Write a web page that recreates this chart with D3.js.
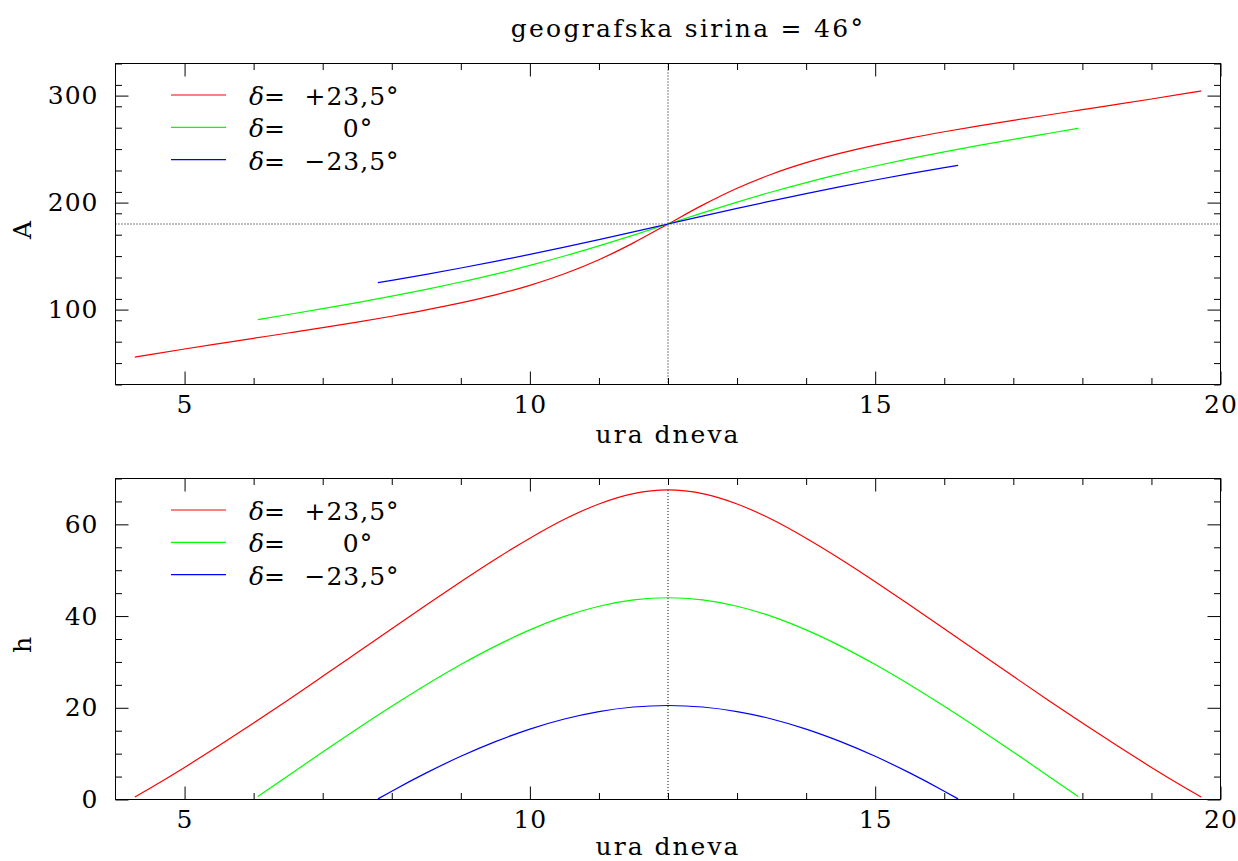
<!DOCTYPE html>
<html>
<head>
<meta charset="utf-8">
<script src="https://cdn.jsdelivr.net/npm/d3@7"></script>
<style>
body { margin: 0; background: #fff; }
text { font-family: "DejaVu Serif", serif; fill: #000; }
</style>
</head>
<body>
<div id="chart"></div>
<script>
var width = 1238, height = 861;

// declinations and colours
var deltaLabels = ["+23,5°", "0°", "\u221223,5°"];
var colors = ["#ff0000", "#00ff00", "#0000ff"];

// delta = +23.5
var hoursRed = [4.28, 4.5, 5, 5.5, 6, 6.5, 7, 7.5, 8, 8.5, 9, 9.5, 10, 10.5, 11, 11.5, 12,
  12.5, 13, 13.5, 14, 14.5, 15, 15.5, 16, 16.5, 17, 17.5, 18, 18.5, 19, 19.5, 19.72];
var azRed = [55.66, 58.0, 63.19, 68.23, 73.19, 78.14, 83.16, 88.34, 93.81, 99.72, 106.29, 113.81, 122.70, 133.45, 146.62, 162.39, 180,
  197.61, 213.38, 226.55, 237.30, 246.19, 253.71, 260.28, 266.19, 271.66, 276.84, 281.86, 286.81, 291.77, 296.81, 302.0, 304.34];
var altRed = [0.55, 2.47, 7.0, 11.75, 16.67, 21.71, 26.86, 32.05, 37.25, 42.43, 47.5, 52.4, 56.98, 61.1, 64.45, 66.7, 67.5,
  66.7, 64.45, 61.1, 56.98, 52.4, 47.5, 42.43, 37.25, 32.05, 26.86, 21.71, 16.67, 11.75, 7.0, 2.47, 0.55];

// delta = 0
var hoursGreen = [6.06, 6.5, 7, 7.5, 8, 8.5, 9, 9.5, 10, 10.5, 11, 11.5, 12,
  12.5, 13, 13.5, 14, 14.5, 15, 15.5, 16, 16.5, 17, 17.5, 17.94];
var azGreen = [90.65, 95.41, 100.91, 106.59, 112.55, 118.90, 125.76, 133.15, 141.26, 150.07, 159.57, 169.63, 180,
  190.37, 200.43, 209.93, 218.74, 226.85, 234.24, 241.10, 247.45, 253.41, 259.09, 264.59, 269.35];
var altGreen = [0.63, 5.20, 10.36, 15.42, 20.32, 25.02, 29.42, 33.44, 36.98, 39.93, 42.14, 43.53, 44.0,
  43.53, 42.14, 39.93, 36.98, 33.44, 29.42, 25.02, 20.32, 15.42, 10.36, 5.20, 0.63];

// delta = -23.5
var hoursBlue = [7.8, 8, 8.5, 9, 9.5, 10, 10.5, 11, 11.5, 12,
  12.5, 13, 13.5, 14, 14.5, 15, 15.5, 16, 16.2];
var azBlue = [125.20, 127.39, 133.00, 138.91, 145.10, 151.61, 158.40, 165.45, 172.67, 180,
  187.33, 194.55, 201.60, 208.39, 214.90, 221.09, 227.00, 232.61, 234.80];
var altBlue = [0.14, 1.82, 5.80, 9.42, 12.62, 15.36, 17.56, 19.18, 20.17, 20.5,
  20.17, 19.18, 17.56, 15.36, 12.62, 9.42, 5.80, 1.82, 0.14];

// ticks
var xMajor = [5, 10, 15, 20];
var aMajor = [100, 200, 300];
var hMajor = [0, 20, 40, 60];

var svg = d3.select("#chart").append("svg")
  .attr("width", width)
  .attr("height", height)
  .style("background-color", "#fff");

var x = d3.scaleLinear().domain([4, 20]).range([115.5, 1220.5]);

function zip(hours, vals) {
  return hours.map(function (h, i) { return {t: h, v: vals[i]}; });
}

function panel(opts) {
  var y = d3.scaleLinear().domain(opts.domain).range([opts.bottom, opts.top]);
  var g = svg.append("g");

  var x0 = x.range()[0], x1 = x.range()[1];

  function styleAxis(sel) {
    sel.select(".domain").remove();
    sel.selectAll("line").attr("stroke", "#000").attr("stroke-width", 1);
    sel.selectAll("text")
      .style("font-family", "'DejaVu Serif', serif")
      .style("font-size", "25px")
      .style("letter-spacing", "1px");
  }

  var minorX = d3.range(5, 20, 1).filter(function (d) { return xMajor.indexOf(d) < 0; });
  var minorY = d3.range(opts.domain[0], opts.domain[1] + 0.001, opts.minorStep)
    .filter(function (d) { return opts.major.indexOf(d) < 0; });

  // bottom
  g.append("g").attr("transform", "translate(0," + opts.bottom + ")")
    .call(d3.axisBottom(x).tickValues(xMajor).tickSizeInner(-13).tickSizeOuter(0).tickPadding(11).tickFormat(d3.format("d")))
    .call(styleAxis);
  g.append("g").attr("transform", "translate(0," + opts.bottom + ")")
    .call(d3.axisBottom(x).tickValues(minorX).tickSize(-6.5).tickFormat(""))
    .call(styleAxis);
  // top
  g.append("g").attr("transform", "translate(0," + opts.top + ")")
    .call(d3.axisTop(x).tickValues(xMajor).tickSize(-13).tickFormat(""))
    .call(styleAxis);
  g.append("g").attr("transform", "translate(0," + opts.top + ")")
    .call(d3.axisTop(x).tickValues(minorX).tickSize(-6.5).tickFormat(""))
    .call(styleAxis);
  // left
  g.append("g").attr("transform", "translate(" + x0 + ",0)")
    .call(d3.axisLeft(y).tickValues(opts.major).tickSizeInner(-13).tickSizeOuter(0).tickPadding(17).tickFormat(d3.format("d")))
    .call(styleAxis);
  g.append("g").attr("transform", "translate(" + x0 + ",0)")
    .call(d3.axisLeft(y).tickValues(minorY).tickSize(-6.5).tickFormat(""))
    .call(styleAxis);
  // right
  g.append("g").attr("transform", "translate(" + x1 + ",0)")
    .call(d3.axisRight(y).tickValues(opts.major).tickSize(-13).tickFormat(""))
    .call(styleAxis);
  g.append("g").attr("transform", "translate(" + x1 + ",0)")
    .call(d3.axisRight(y).tickValues(minorY).tickSize(-6.5).tickFormat(""))
    .call(styleAxis);

  // frame
  g.append("rect")
    .attr("x", x0).attr("y", opts.top)
    .attr("width", x1 - x0).attr("height", opts.bottom - opts.top)
    .attr("fill", "none").attr("stroke", "#000").attr("stroke-width", 1);

  // dotted guides
  g.append("line")
    .attr("x1", x(12)).attr("x2", x(12))
    .attr("y1", opts.noonTop == null ? opts.top : y(opts.noonTop)).attr("y2", opts.bottom)
    .attr("stroke", "#000").attr("stroke-width", 1).attr("stroke-dasharray", "1,2");
  if (opts.hline != null) {
    g.append("line")
      .attr("x1", x0).attr("x2", x1)
      .attr("y1", y(opts.hline)).attr("y2", y(opts.hline))
      .attr("stroke", "#000").attr("stroke-width", 1).attr("stroke-dasharray", "1,2");
  }

  var line = d3.line()
    .x(function (d) { return x(d.t); })
    .y(function (d) { return y(d.v); })
    .curve(d3.curveMonotoneX);

  g.selectAll(".curve")
    .data(opts.series)
    .enter().append("path")
    .attr("class", "curve")
    .attr("d", function (d) { return line(d); })
    .attr("fill", "none")
    .attr("stroke", function (d, i) { return colors[i]; })
    .attr("stroke-width", 1.2);

  // legend
  var legend = g.selectAll(".legend")
    .data(deltaLabels)
    .enter().append("g")
    .attr("class", "legend")
    .attr("transform", function (d, i) { return "translate(0," + (opts.legendY + i * 32.3) + ")"; });

  legend.append("line")
    .attr("x1", 171).attr("x2", 226)
    .attr("stroke", function (d, i) { return colors[i]; })
    .attr("stroke-width", 1.2);

  legend.append("text")
    .attr("x", 249).attr("y", 10)
    .style("font-size", "25px")
    .html('<tspan font-style="italic">\u03b4</tspan>=');

  // values sit like monospaced text: signed ones start at the sign, the zero is centred further right
  legend.append("text")
    .attr("x", function (d) { return d.length > 2 ? 352 : 358; })
    .attr("y", 10)
    .attr("text-anchor", "middle")
    .style("font-size", "25px")
    .style("letter-spacing", "1px")
    .text(function (d) { return d; });

  // labels
  g.append("text")
    .attr("x", x(12)).attr("y", opts.bottom + opts.xLabelDy)
    .attr("text-anchor", "middle")
    .style("font-size", "25px")
    .style("letter-spacing", "2px")
    .text("ura dneva");

  g.append("text")
    .attr("transform", "translate(31," + ((opts.top + opts.bottom) / 2 + 6) + ") rotate(-90)")
    .attr("text-anchor", "middle")
    .style("font-size", "25px")
    .text(opts.yLabel);
}

panel({
  domain: [30, 330], top: 63.5, bottom: 384.5,
  major: aMajor, minorStep: 20,
  series: [zip(hoursRed, azRed), zip(hoursGreen, azGreen), zip(hoursBlue, azBlue)],
  hline: 180, noonTop: null,
  legendY: 95, yLabel: "A", xLabelDy: 58
});

panel({
  domain: [0, 70], top: 478.5, bottom: 799.5,
  major: hMajor, minorStep: 5,
  series: [zip(hoursRed, altRed), zip(hoursGreen, altGreen), zip(hoursBlue, altBlue)],
  hline: null, noonTop: 67.5,
  legendY: 510, yLabel: "h", xLabelDy: 55
});

svg.append("text")
  .attr("x", 688).attr("y", 37)
  .attr("text-anchor", "middle")
  .style("font-size", "25px")
  .style("letter-spacing", "2.3px")
  .text("geografska sirina = 46°");
</script>
</body>
</html>
